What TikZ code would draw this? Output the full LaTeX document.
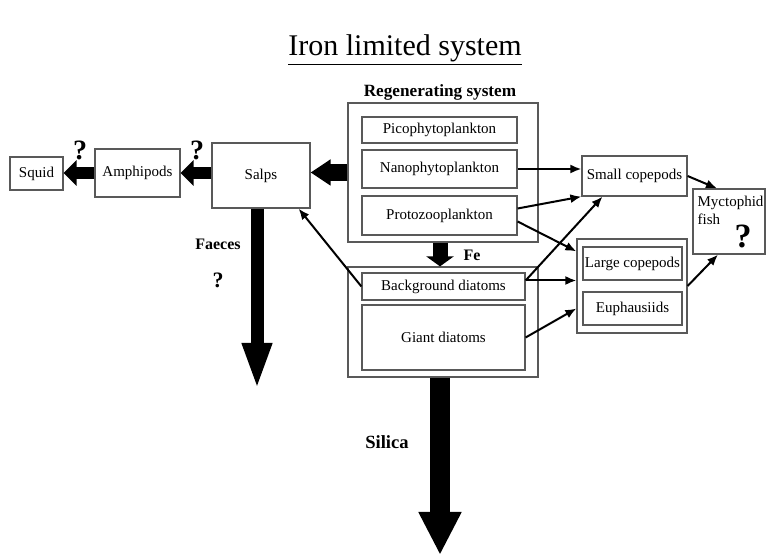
\documentclass[tikz,border=0pt]{standalone}
\usepackage{fontspec}
\setmainfont{Liberation Serif}
\usetikzlibrary{arrows.meta}
\tikzset{
  box/.style={draw=black!65, line width=0.6pt, inner sep=0pt, align=center,
    font=\fontsize{7.5}{9}\selectfont},
  frame/.style={draw=black!65, line width=0.6pt, inner sep=0pt},
  flow/.style={line width=1pt, -{Latex[length=5.5pt,width=4.5pt]}},
  fat/.style={line width=6pt, -{Triangle[width=12.5pt,length=6.5pt]}},
  fatter/.style={line width=8.5pt, -{Triangle[width=12.5pt,length=10pt]}},
  bold/.style={font=\bfseries\fontsize{8}{9}\selectfont},
  query/.style={font=\bfseries\fontsize{14}{14}\selectfont, inner sep=0pt}
}
\begin{document}
\begin{tikzpicture}[x=0.5pt,y=-0.5pt]
\useasboundingbox (0,0) rectangle (767,555);
% title
\node (title) at (405,50) {\fontsize{15}{17}\selectfont\underline{Iron limited system}};
% grazer chain on the left
\node[box, minimum width=26.5pt, minimum height=16.5pt] (squid) at (36.5,173.5) {Squid};
\node[box, minimum width=42.5pt, minimum height=24pt] (amphi) at (137.5,173) {Amphipods};
\node[box, minimum width=49pt, minimum height=32.5pt] (salps) at (261,175.5) {Salps};
% regenerating system
\node[frame, minimum width=95pt, minimum height=69.5pt] (regen) at (443,172.5) {};
\node[bold, font=\bfseries\fontsize{8.6}{10}\selectfont] (regtitle) at (440,92) {Regenerating system};
\node[box, minimum width=77.5pt, minimum height=13pt] (pico) at (439.5,130) {Picophytoplankton};
\node[box, minimum width=77.5pt, minimum height=19pt] (nano) at (439.5,169) {Nanophytoplankton};
\node[box, minimum width=77.5pt, minimum height=19.5pt] (proto) at (439.5,215.5) {Protozooplankton};
% diatoms
\node[frame, minimum width=95pt, minimum height=55pt] (diat) at (443,322) {};
\node[box, minimum width=81.5pt, minimum height=13.5pt] (bgdiat) at (443.5,286.5) {Background diatoms};
\node[box, minimum width=81.5pt, minimum height=32.5pt] (giant) at (443.5,337.5) {Giant diatoms};
% copepods, krill, fish
\node[box, minimum width=52.5pt, minimum height=20pt] (smallcop) at (634.5,176) {Small copepods};
\node[frame, minimum width=55pt, minimum height=47pt] (crust) at (632,286) {};
\node[box, minimum width=49.5pt, minimum height=16.5pt] (largecop) at (632.5,263.5) {Large copepods};
\node[box, minimum width=49.5pt, minimum height=16.5pt] (euph) at (632.5,308.5) {Euphausiids};
\node[frame, minimum width=36pt, minimum height=32.5pt] (mycto) at (729,221.5) {};
\node[box, draw=none, align=left, anchor=north west, inner sep=1pt] (myctotext) at (695,193) {Myctophid\\fish};
\node[query, font=\bfseries\fontsize{17}{17}\selectfont] (myctoq) at (743,236) {?};
% thick flows
\draw[fatter] (regen.west) -- (salps.east |- regen.west);
\draw[fat] (salps.west |- amphi.east) -- (amphi.east);
\draw[fat] (amphi.west) -- (squid.east |- amphi.west);
\node[query] (q1) at (80,150) {?};
\node[query] (q2) at (197,150) {?};
\coordinate (faecesend) at (257,390);
\draw[line width=6.5pt, -{Triangle[width=13.5pt,length=23.5pt]}] (salps.south -| faecesend) -- (faecesend);
\node[bold] (faeces) at (218,244) {Faeces};
\node[query, font=\bfseries\fontsize{11}{11}\selectfont] (q3) at (218,280) {?};
\draw[line width=7.5pt, -{Triangle[width=13.5pt,length=5pt]}] (regen.south -| 440,0) -- (diat.north -| 440,0);
\node[bold] (fe) at (472,255) {Fe};
\coordinate (silicaend) at (440,555);
\draw[line width=10pt, -{Triangle[width=20pt,length=21.5pt]}] (diat.south -| silicaend) -- (silicaend);
\node[bold, font=\bfseries\fontsize{9.3}{11}\selectfont] (silica) at (387,442) {Silica};
% thin flows
\draw[flow] (bgdiat.west) -- ([xshift=-6pt]salps.south east);
\draw[flow] (nano.east) -- (nano.east -| smallcop.west);
\draw[flow] ([yshift=3.5pt]proto.east) -- (smallcop.south west);
\draw[flow] ([yshift=-3pt]proto.east) -- ([yshift=-6.5pt]crust.north west);
\coordinate (bgout) at ([yshift=3pt]bgdiat.east);
\draw[flow] (bgout) -- ([xshift=-16pt]smallcop.south);
\draw[flow] (bgout) -- (bgout -| crust.west);
\draw[flow] (giant.east) -- (euph.west -| crust.west);
\draw[flow] (smallcop.east) -- ([xshift=-6pt]mycto.north);
\draw[flow] (crust.east) -- ([xshift=-5.5pt]mycto.south);
\end{tikzpicture}
\end{document}
